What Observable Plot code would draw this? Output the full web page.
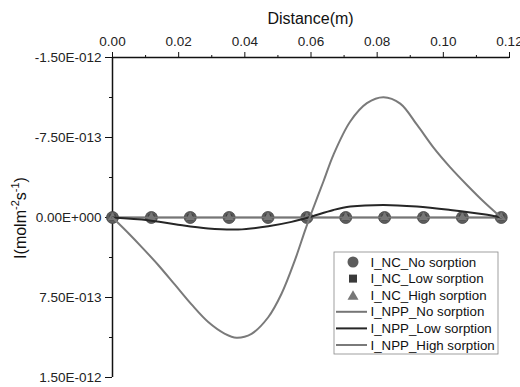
<!DOCTYPE html>
<html>
<head>
<meta charset="utf-8">
<script src="https://cdn.jsdelivr.net/npm/d3@7"></script>
<script src="https://cdn.jsdelivr.net/npm/@observablehq/plot@0.6"></script>
<style>
  html, body { margin: 0; padding: 0; background: #fff; }
  #chart { width: 520px; height: 387px; position: relative; }
</style>
</head>
<body>
<div id="chart"></div>
<script>
// Sample distances for NC markers and the flat NPP_No line
const sampleX = [0, 0.01175, 0.0235, 0.03525, 0.047, 0.05875, 0.0705, 0.08225, 0.094, 0.10575, 0.1175];
const ncNo   = [0, 0, 0, 0, 0, 0, 0, 0, 0, 0, 0];
const ncLow  = [0, 0, 0, 0, 0, 0, 0, 0, 0, 0, 0];
const ncHigh = [0, 0, 0, 0, 0, 0, 0, 0, 0, 0, 0];
const nppNo  = [0, 0, 0, 0, 0, 0, 0, 0, 0, 0, 0];

// NPP low sorption curve
const lowX = [0, 0.0108, 0.0189, 0.0289, 0.038, 0.0471, 0.0541, 0.0592, 0.0668, 0.0719, 0.0819, 0.092, 0.1021, 0.1122, 0.1175];
const lowY = [0, 2.5e-14, 6.3e-14, 1.03e-13, 1.125e-13, 8.2e-14, 4.1e-14, 0, -7.1e-14, -1.03e-13, -1.18e-13, -1.03e-13, -7.1e-14, -3.1e-14, 0];

// NPP high sorption curve
const highX = [0, 0.00475, 0.00877, 0.01381, 0.01886, 0.02388, 0.02893, 0.03398, 0.03748, 0.04202, 0.04707, 0.05109, 0.05514, 0.05816, 0.05961, 0.06378, 0.06681, 0.07186, 0.0769, 0.08192, 0.08697, 0.09202, 0.09704, 0.10209, 0.10713, 0.11215, 0.1175];
const highY = [0, 1.45e-13, 2.75e-13, 4.45e-13, 6.3e-13, 8.15e-13, 9.8e-13, 1.09e-12, 1.127e-12, 1.09e-12, 9.35e-13, 7.15e-13, 4.0e-13, 1.25e-13, 0, -3.4e-13, -5.9e-13, -9.0e-13, -1.072e-12, -1.128e-12, -1.068e-12, -8.7e-13, -6.55e-13, -4.7e-13, -3.05e-13, -1.5e-13, 0];

const xTicks = [0, 0.02, 0.04, 0.06, 0.08, 0.10, 0.12];
const xMinor = [0.01, 0.03, 0.05, 0.07, 0.09, 0.11];
const yTicks = [-1.5e-12, -7.5e-13, 0, 7.5e-13, 1.5e-12];
const yMinor = [-1.125e-12, -3.75e-13, 3.75e-13, 1.125e-12];

const legendItems = [
  {label: "I_NC_No sorption", kind: "circle"},
  {label: "I_NC_Low sorption", kind: "square"},
  {label: "I_NC_High sorption", kind: "triangle"},
  {label: "I_NPP_No sorption", kind: "line", color: "#767676"},
  {label: "I_NPP_Low sorption", kind: "line", color: "#262626"},
  {label: "I_NPP_High sorption", kind: "line", color: "#7a7a7a"}
];

const markers = sampleX.map((x, i) => ({x, no: ncNo[i], low: ncLow[i], high: ncHigh[i], npp: nppNo[i]}));
const lowData = lowX.map((x, i) => ({x, y: lowY[i]}));
const highData = highX.map((x, i) => ({x, y: highY[i]}));

function sciFmt(v) {
  if (v === 0) return "0.00E+000";
  const [m, e] = v.toExponential(2).split("e");
  const ev = parseInt(e, 10);
  const sign = ev < 0 ? "-" : "+";
  return m + "E" + sign + String(Math.abs(ev)).padStart(3, "0");
}

const font = "'Liberation Sans', Arial, sans-serif";

const plot = Plot.plot({
  width: 520,
  height: 387,
  marginTop: 57,
  marginLeft: 112,
  marginRight: 11,
  marginBottom: 10,
  style: {fontFamily: font, fontSize: "13.5px", color: "#222", background: "#fff"},
  x: {domain: [0, 0.12]},
  y: {domain: [-1.5e-12, 1.5e-12], reverse: true},
  marks: [
    Plot.axisX(xTicks, {anchor: "top", tickSize: 6, tickPadding: 6, tickFormat: d3.format(".2f"), label: null, fontSize: 13.5, stroke: "#111"}),
    Plot.axisX(xMinor, {anchor: "top", tickSize: 3, tickFormat: () => "", label: null, stroke: "#111"}),
    Plot.axisY(yTicks, {anchor: "left", tickSize: 7, tickPadding: 4, tickFormat: sciFmt, label: null, fontSize: 13.5, stroke: "#111"}),
    Plot.axisY(yMinor, {anchor: "left", tickSize: 3, tickFormat: () => "", label: null, stroke: "#111"}),
    Plot.ruleY([-1.5e-12], {stroke: "#111", strokeWidth: 1.5}),
    Plot.ruleX([0], {stroke: "#111", strokeWidth: 1.5}),
    Plot.line(markers, {x: "x", y: "npp", stroke: "#767676", strokeWidth: 2}),
    Plot.dot(markers, {x: "x", y: "no", r: 6, fill: "#5c5c5c", stroke: "#444", strokeWidth: 0.8}),
    Plot.dot(markers, {x: "x", y: "low", r: 3.5, symbol: "square", fill: "#3a3a3a"}),
    Plot.dot(markers, {x: "x", y: "high", r: 3.5, symbol: "triangle", fill: "#777"}),
    Plot.line(markers, {x: "x", y: "npp", stroke: "#767676", strokeWidth: 1.5}),
    Plot.line(lowData, {x: "x", y: "y", stroke: "#262626", strokeWidth: 2, curve: "catmull-rom"}),
    Plot.line(highData, {x: "x", y: "y", stroke: "#7a7a7a", strokeWidth: 2, curve: "catmull-rom"})
  ]
});

document.getElementById("chart").appendChild(plot);

const svg = d3.select(plot);
// x label
svg.append("text").attr("x", 310.5).attr("y", 24).attr("text-anchor", "middle")
  .attr("font-family", font).attr("font-size", 16).attr("fill", "#111").text("Distance(m)");
// y label with superscripts
const yl = svg.append("text").attr("transform", "translate(26,218) rotate(-90)")
  .attr("text-anchor", "middle").attr("font-family", font).attr("font-size", 16).attr("fill", "#111");
yl.append("tspan").text("I(molm");
yl.append("tspan").attr("font-size", 11).attr("dy", -7).text("-2");
yl.append("tspan").attr("dy", 7).text("s");
yl.append("tspan").attr("font-size", 11).attr("dy", -7).text("-1");
yl.append("tspan").attr("dy", 7).text(")");

// legend
const lg = svg.append("g").attr("font-family", font).attr("font-size", 13.3).attr("fill", "#111").attr("text-anchor", "start");
lg.append("rect").attr("x", 334).attr("y", 252).attr("width", 164).attr("height", 102)
  .attr("fill", "#fff").attr("stroke", "#888").attr("stroke-width", 0.8);
legendItems.forEach((d, i) => {
  const cy = 262 + i * 16.6;
  if (d.kind === "circle") {
    lg.append("circle").attr("cx", 353).attr("cy", cy).attr("r", 5.5).attr("fill", "#5c5c5c");
  } else if (d.kind === "square") {
    lg.append("rect").attr("x", 349).attr("y", cy - 4).attr("width", 8).attr("height", 8).attr("fill", "#3a3a3a");
  } else if (d.kind === "triangle") {
    lg.append("path").attr("d", `M${353},${cy - 5} L${358.5},${cy + 4.5} L${347.5},${cy + 4.5} Z`).attr("fill", "#777");
  } else {
    lg.append("line").attr("x1", 336).attr("x2", 367).attr("y1", cy).attr("y2", cy)
      .attr("stroke", d.color).attr("stroke-width", 2);
  }
  lg.append("text").attr("x", 370.5).attr("y", cy).attr("dy", "0.35em").attr("text-anchor", "start").text(d.label);
});
</script>
</body>
</html>
